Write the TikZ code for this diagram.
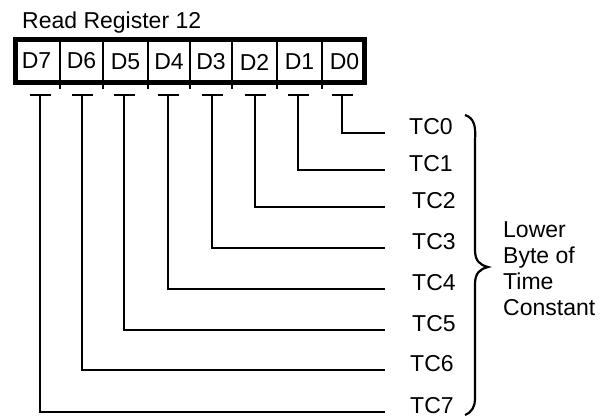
\documentclass[tikz,border=0pt]{standalone}
\usepackage{fontspec}
\setmainfont{Liberation Sans}
\begin{document}
\begin{tikzpicture}[x=1pt,y=-1pt,
  txt/.style={font=\fontsize{23}{26}\selectfont, inner sep=0pt},
  cell/.style={txt, anchor=center},
  wire/.style={line width=2.4pt},
  tbar/.style={line width=2.4pt},
  frame/.style={line width=5pt},
  divider/.style={line width=1.6pt},
  lbl/.style={txt, anchor=west}]
\useasboundingbox (0,0) rectangle (610,415);
% title
\node[txt, anchor=base west] (title) at (22,28) {Read Register 12};
% register frame
\draw[frame] (15.5,39.5) rectangle (364.5,82.5);
\foreach \xx in {60,103,148,190,232,277,322}
  \draw[divider] (\xx,39.5) -- (\xx,89);
% cells
\node[cell] (d7) at (36.5,61) {D7};
\node[cell] (d6) at (81.5,61) {D6};
\node[cell] (d5) at (125.5,62) {D5};
\node[cell] (d4) at (169,62) {D4};
\node[cell] (d3) at (211,62) {D3};
\node[cell] (d2) at (254.5,62) {D2};
\node[cell] (d1) at (299.5,62) {D1};
\node[cell] (d0) at (344.5,62) {D0};
% tee tops
\foreach \n/\xx in {7/40,6/82,5/124,4/168,3/212,2/255,1/298,0/342}{
  \coordinate (t\n) at (\xx,95);
  \draw[tbar] (\xx-10.5,95) -- (\xx+10.5,95);
}
% line ends and labels
\foreach \n/\yy/\lx in {0/133/409,1/170/409,2/207/412,3/248/412,4/289/412,5/330/412,6/370/410,7/412/410}{
  \coordinate (e\n) at (385,\yy);
  \draw[wire] (t\n) |- (e\n);
  \node[lbl] (tc\n) at (\lx,\yy-6) {TC\n};
}
% brace
\draw[line width=2.2pt] (465,115) .. controls (474,118) and (476,126) .. (475,140)
  -- (475,250) .. controls (475,261) and (480,265) .. (488,267)
  .. controls (480,269) and (475,273) .. (475,284)
  -- (475,398) .. controls (475,407) and (472,412) .. (465,415);
\node[txt, anchor=west, align=left] (desc) at (503,269)
  {Lower\\Byte of\\Time\\Constant};
\end{tikzpicture}
\end{document}
